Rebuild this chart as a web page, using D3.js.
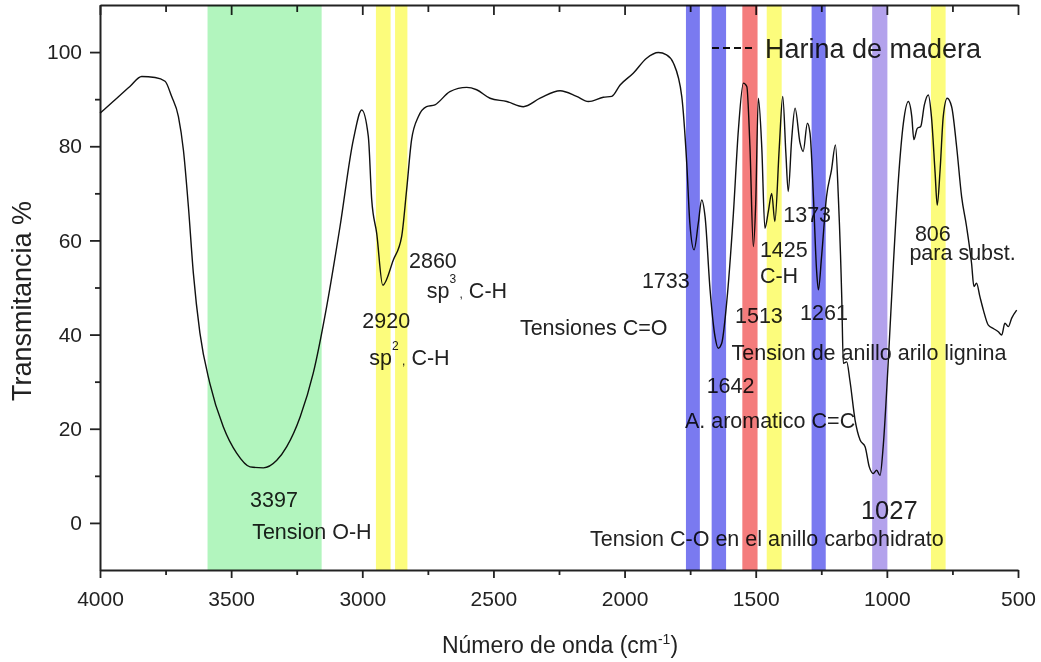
<!DOCTYPE html>
<html>
<head>
<meta charset="utf-8">
<script src="https://cdn.jsdelivr.net/npm/d3@7"></script>
<style>
  body { margin: 0; background: #fff; }
  svg { display: block; font-family: "Liberation Sans", Arial, sans-serif; }
  .band { mix-blend-mode: multiply; }
</style>
</head>
<body>
<svg id="chart" width="1041" height="662"></svg>
<script>
// FTIR spectrum - harina de madera
var wavenumber = [4000, 3950, 3886, 3841, 3790, 3752, 3727, 3701, 3682, 3663, 3644, 3619, 3581, 3530, 3479, 3428,
  3377, 3326, 3288, 3237, 3187, 3136, 3085, 3034, 3002, 2977, 2964, 2945, 2922, 2882, 2850, 2831, 2812, 2786, 2755,
  2723, 2666, 2602, 2564, 2513, 2449, 2386, 2322, 2246, 2183, 2138, 2081, 2049, 2017, 1967, 1916, 1871, 1840, 1814,
  1782, 1763, 1751, 1735, 1719, 1706, 1693, 1674, 1655, 1643, 1630, 1611, 1585, 1566, 1547, 1534, 1522, 1509, 1500,
  1490, 1477, 1465, 1452, 1439, 1427, 1410, 1397, 1385, 1376, 1363, 1350, 1331, 1319, 1303, 1293, 1280, 1268, 1261,
  1249, 1230, 1211, 1196, 1185, 1172, 1166, 1153, 1141, 1121, 1102, 1083, 1067, 1052, 1039, 1026, 1014, 995, 975,
  956, 937, 918, 905, 897, 884, 871, 857, 842, 830, 816, 808, 797, 785, 770, 753, 734, 715, 696, 677, 668, 658, 645,
  632, 613, 594, 575, 562, 550, 537, 524, 505];
var transmitancia = [87.0, 89.5, 92.7, 94.8, 94.6, 93.8, 90.6, 86.3, 79.2, 67.2, 53.0, 40.3, 29.6, 20.4, 14.8, 11.9,
  11.7, 13.3, 16.2, 22.5, 31.8, 45.9, 62.9, 81.4, 87.7, 82.1, 68.6, 61.5, 50.5, 55.8, 60.8, 70.7, 81.4, 86.3, 88.4,
  88.8, 91.6, 92.5, 92.0, 90.2, 89.5, 88.4, 90.2, 91.8, 90.6, 89.5, 90.4, 90.6, 93.0, 95.5, 98.7, 99.9, 99.4, 97.7,
  90.6, 76.4, 63.6, 58.0, 63.6, 68.6, 65.0, 49.5, 39.5, 37.1, 38.1, 46.6, 65.8, 83.5, 93.4, 92.7, 79.9, 58.7, 67.9,
  90.2, 79.9, 62.6, 66.1, 70.0, 64.0, 79.9, 90.6, 78.5, 70.4, 81.4, 88.1, 80.7, 78.9, 84.9, 82.8, 69.3, 53.7, 49.5,
  56.5, 69.3, 75.0, 80.3, 69.3, 48.0, 33.9, 34.2, 30.3, 21.8, 17.6, 16.2, 11.9, 10.5, 11.2, 10.1, 16.2, 33.9, 55.1,
  72.9, 84.9, 89.5, 86.3, 81.4, 83.8, 84.2, 88.8, 90.9, 86.3, 74.3, 67.5, 75.0, 86.3, 90.2, 88.4, 79.9, 69.3, 62.9,
  55.1, 50.2, 50.9, 48.0, 45.2, 42.0, 41.3, 40.6, 39.9, 42.4, 41.7, 43.5, 45.2];

// highlighted absorption bands (cm-1)
var bandFrom = [3590, 2948, 2875, 1766, 1668, 1551, 1458, 1287, 1056, 832];
var bandTo   = [3155, 2892, 2828, 1713, 1613, 1493, 1401, 1233, 998, 776];
var bandKind = ["OH", "CH", "CH", "arom", "arom", "ring", "CH", "arom", "CO", "CH"];

// annotations: text, anchor wavenumber, anchor transmitancia
var labelText = ["3397", "Tension O-H", "2860", "2920", "Tensiones C=O", "1733", "1642", "A. aromatico C=C",
  "1513", "1425", "C-H", "1373", "1261", "Tension de anillo arilo lignina", "806", "para subst.",
  "Tension C-O en el anillo carbohidrato"];
var labelWn = [3428, 3420, 2822, 3000, 2399, 1934, 1687, 1770, 1579, 1484, 1484, 1395, 1331, 1592, 893, 914, 2132];
var labelT  = [3.3, -3.5, 54.1, 41.3, 39.9, 49.8, 27.5, 20.1, 42.5, 56.5, 50.9, 64.0, 43.1, 34.6, 59.9, 55.8, -4.9];

var xTicks = [4000, 3500, 3000, 2500, 2000, 1500, 1000, 500];
var xMinor = [3750, 3250, 2750, 2250, 1750, 1250, 750];
var yTicks = [0, 20, 40, 60, 80, 100];
var yMinor = [10, 30, 50, 70, 90];

var bandColor = { OH: "#b2f5be", CH: "#fcfc7c", arom: "#7a7af0", ring: "#f47c7c", CO: "#b3a2ec" };

var svg = d3.select("#chart"),
    margin = {top: 5, right: 23, bottom: 92, left: 100},
    width = +svg.attr("width") - margin.left - margin.right,
    height = +svg.attr("height") - margin.top - margin.bottom;

svg.append("rect").attr("width", 1041).attr("height", 662).attr("fill", "#fff");

var g = svg.append("g").attr("transform", "translate(" + margin.left + "," + margin.top + ")");

var x = d3.scaleLinear().domain([4000, 500]).range([0, width]);
var y = d3.scaleLinear().domain([-10, 110]).range([height, 0]);

var data = wavenumber.map(function(w, i) { return [w, transmitancia[i]]; });

var line = d3.line()
    .x(function(d) { return x(d[0]); })
    .y(function(d) { return y(d[1]); })
    .curve(d3.curveMonotoneX);

// axes
function styleAxis(sel) {
  sel.select(".domain").attr("stroke", "#222").attr("stroke-width", 2);
  sel.selectAll(".tick line").attr("stroke", "#222").attr("stroke-width", 1.8);
  sel.selectAll(".tick text").attr("fill", "#222").style("font-size", "21px").style("font-family", "Liberation Sans, Arial, sans-serif");
}

g.append("g")
    .attr("transform", "translate(0," + height + ")")
    .call(d3.axisBottom(x).tickValues(xTicks).tickFormat(d3.format("d")).tickSize(8).tickPadding(13).tickSizeOuter(0))
    .call(styleAxis);
g.append("g")
    .attr("transform", "translate(0," + height + ")")
    .call(d3.axisBottom(x).tickValues(xMinor).tickFormat("").tickSize(5))
    .call(styleAxis)
    .select(".domain").remove();

g.append("g")
    .call(d3.axisTop(x).tickValues(xTicks).tickFormat("").tickSize(-10).tickSizeOuter(0))
    .call(styleAxis);
g.append("g")
    .call(d3.axisTop(x).tickValues(xMinor).tickFormat("").tickSize(-7))
    .call(styleAxis)
    .select(".domain").remove();

g.append("g")
    .call(d3.axisLeft(y).tickValues(yTicks).tickSize(10).tickPadding(8).tickSizeOuter(0))
    .call(styleAxis);
g.append("g")
    .call(d3.axisLeft(y).tickValues(yMinor).tickFormat("").tickSize(5))
    .call(styleAxis)
    .select(".domain").remove();

// spectrum
g.append("path")
    .datum(data)
    .attr("fill", "none")
    .attr("stroke", "#111")
    .attr("stroke-width", 1.4)
    .attr("stroke-linejoin", "round")
    .attr("d", line);

// annotations
g.selectAll(".lbl")
    .data(labelText)
  .enter().append("text")
    .attr("class", "lbl")
    .attr("x", function(d, i) { return x(labelWn[i]); })
    .attr("y", function(d, i) { return y(labelT[i]); })
    .attr("fill", "#222")
    .style("font-size", "21.5px")
    .text(function(d) { return d; });

// sp3 / sp2 labels with superscripts
function spLabel(wn, t, sup) {
  var tx = g.append("text")
      .attr("x", x(wn)).attr("y", y(t))
      .attr("fill", "#222")
      .style("font-size", "21.5px");
  tx.append("tspan").text("sp");
  tx.append("tspan").attr("dy", -15).style("font-size", "12px").text(sup);
  tx.append("tspan").attr("dy", 15).style("font-size", "12px").text(" ,");
  tx.append("tspan").text(" C-H");
}
spLabel(2754, 47.8, "3");
spLabel(2973, 33.5, "2");

g.append("text")
    .attr("x", x(1099)).attr("y", y(0.9))
    .attr("fill", "#222")
    .style("font-size", "25.5px")
    .text("1027");

// legend
var legend = g.append("g").attr("transform", "translate(612,43)");
legend.append("line")
    .attr("x1", 0).attr("x2", 44)
    .attr("stroke", "#111").attr("stroke-width", 2)
    .attr("stroke-dasharray", "7,4");
legend.append("text")
    .attr("x", 53).attr("y", 10)
    .attr("fill", "#222")
    .style("font-size", "27px")
    .text("Harina de madera");

// coloured bands on top (multiply)
g.selectAll(".band")
    .data(bandFrom)
  .enter().append("rect")
    .attr("class", "band")
    .attr("x", function(d) { return x(d); })
    .attr("width", function(d, i) { return x(bandTo[i]) - x(d); })
    .attr("y", y(110))
    .attr("height", y(-10) - y(110))
    .attr("fill", function(d, i) { return bandColor[bandKind[i]]; });

// axis titles
var xt = svg.append("text")
    .attr("x", 560).attr("y", 653)
    .attr("text-anchor", "middle")
    .attr("fill", "#222")
    .style("font-size", "23px");
xt.append("tspan").text("Número de onda (cm");
xt.append("tspan").attr("dy", -9).style("font-size", "14px").text("-1");
xt.append("tspan").attr("dy", 9).text(")");

svg.append("text")
    .attr("transform", "translate(31,301) rotate(-90)")
    .attr("text-anchor", "middle")
    .attr("fill", "#222")
    .style("font-size", "27px")
    .text("Transmitancia %");
</script>
</body>
</html>
